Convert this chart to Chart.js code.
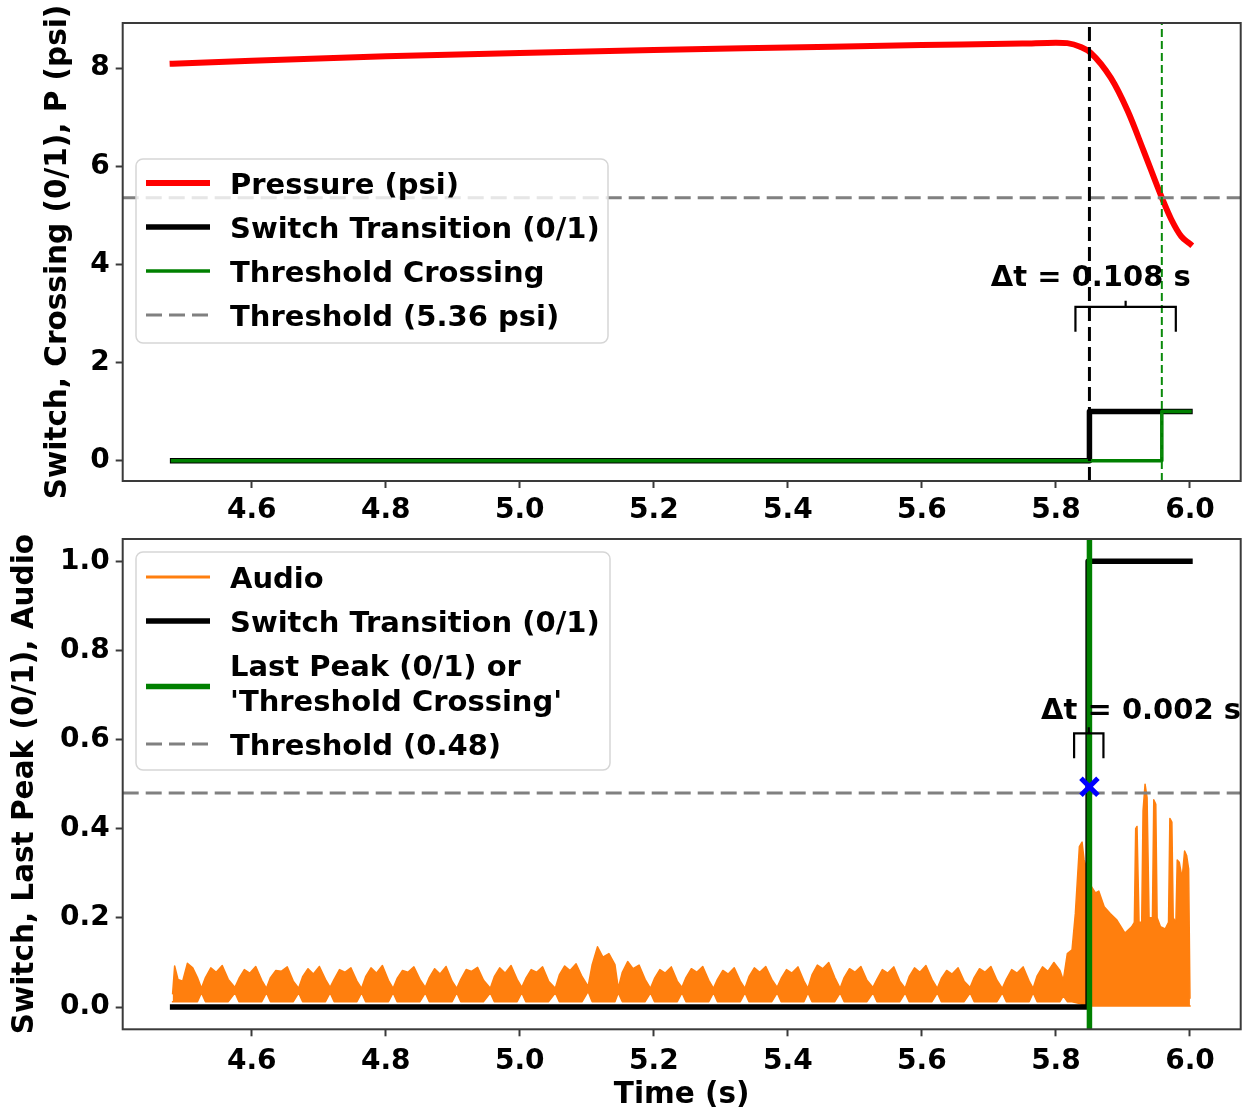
<!DOCTYPE html>
<html>
<head>
<meta charset="utf-8">
<script src="https://cdn.jsdelivr.net/npm/chart.js@4.4.1/dist/chart.umd.min.js"></script>
<style>
  html, body { margin: 0; padding: 0; background: #fff; }
  #wrap { position: relative; width: 1247px; height: 1112px; overflow: hidden; }
  canvas { position: absolute; left: 0; }
  #top { top: 0; }
  #bottom { top: 530px; }
</style>
</head>
<body>
<div id="wrap">
  <canvas id="top" width="1247" height="530"></canvas>
  <canvas id="bottom" width="1247" height="582"></canvas>
</div>
<script>
// shared time window (s)
const timeMin = 4.4075;
const timeMax = 6.0757;
const timeTicks = 0.2;

// top panel: pressure trace
const pressureT = [4.482, 4.6, 4.8, 5.0, 5.2, 5.4, 5.6, 5.75, 5.80, 5.817, 5.837, 5.852, 5.882, 5.907, 5.931, 5.958, 5.972, 5.987, 6.0];
const pressureP = [8.09, 8.15, 8.24, 8.31, 8.37, 8.42, 8.47, 8.50, 8.52, 8.51, 8.43, 8.31, 7.80, 7.13, 6.31, 5.36, 4.92, 4.57, 4.42];
const pressureThreshold = 5.36;

// top panel: switch and threshold crossing steps
const switchT = [4.482, 5.850, 5.850, 6.0];
const switchV = [0, 0, 1, 1];
const crossT = [4.482, 5.958, 5.958, 6.0];
const crossV = [0, 0, 1, 1];
const switchTime = 5.850;
const crossTime = 5.958;

// bottom panel: audio envelope (upper / lower edge of the signal band)
const audioT = [
  4.482, 4.485, 4.490, 4.497, 4.504, 4.512, 4.519,
  4.525, 4.531, 4.539, 4.547, 4.556, 4.565,
  4.575, 4.581, 4.589, 4.597, 4.606, 4.615,
  4.622, 4.628, 4.636, 4.644, 4.653, 4.662,
  4.670, 4.676, 4.684, 4.692, 4.701, 4.710,
  4.717, 4.723, 4.731, 4.739, 4.748, 4.757,
  4.764, 4.770, 4.778, 4.786, 4.795, 4.804,
  4.811, 4.817, 4.825, 4.833, 4.842, 4.851,
  4.859, 4.865, 4.873, 4.881, 4.890, 4.899,
  4.906, 4.912, 4.920, 4.928, 4.937, 4.946,
  4.956, 4.962, 4.970, 4.978, 4.987, 4.996,
  5.003, 5.009, 5.017, 5.025, 5.034, 5.043,
  5.053, 5.059, 5.067, 5.075, 5.084, 5.093,
  5.102, 5.108, 5.116, 5.124, 5.133, 5.142,
  5.147, 5.153, 5.161, 5.169, 5.178, 5.187,
  5.195, 5.201, 5.209, 5.217, 5.226, 5.235,
  5.242, 5.248, 5.256, 5.264, 5.273, 5.282,
  5.289, 5.295, 5.303, 5.311, 5.320, 5.329,
  5.336, 5.342, 5.350, 5.358, 5.367, 5.376,
  5.384, 5.390, 5.398, 5.406, 5.415, 5.424,
  5.430, 5.436, 5.444, 5.452, 5.461, 5.470,
  5.478, 5.484, 5.492, 5.500, 5.509, 5.518,
  5.527, 5.533, 5.541, 5.549, 5.558, 5.567,
  5.575, 5.581, 5.589, 5.597, 5.606, 5.615,
  5.623, 5.629, 5.637, 5.645, 5.654, 5.663,
  5.672, 5.678, 5.686, 5.694, 5.703, 5.712,
  5.720, 5.726, 5.734, 5.742, 5.751, 5.760,
  5.766, 5.772, 5.780, 5.788, 5.797, 5.806,
  5.811, 5.817, 5.824, 5.829, 5.835, 5.839, 5.842, 5.848, 5.853, 5.859,
  5.864, 5.872, 5.881, 5.891, 5.903, 5.913, 5.917, 5.919, 5.921, 5.924,
  5.928, 5.930, 5.933, 5.936, 5.939, 5.944, 5.946, 5.949, 5.951, 5.956,
  5.963, 5.968, 5.970, 5.973, 5.975, 5.979, 5.981, 5.984, 5.987, 5.989,
  5.992, 5.995, 5.998, 6.000
];
const audioHi = [
  .030, .092, .062, .058, .098, .088, .066,
  .042, .066, .088, .078, .093, .062,
  .044, .064, .084, .076, .091, .060,
  .042, .066, .082, .080, .090, .058,
  .042, .068, .086, .074, .091, .062,
  .044, .062, .084, .078, .088, .058,
  .042, .068, .088, .076, .093, .060,
  .042, .064, .082, .078, .090, .062,
  .044, .066, .086, .074, .091, .058,
  .042, .062, .084, .080, .089, .060,
  .042, .068, .088, .076, .093, .062,
  .044, .064, .084, .078, .090, .058,
  .042, .072, .092, .082, .097, .068,
  .046, .095, .135, .112, .120, .095,
  .042, .078, .102, .086, .094, .062,
  .042, .064, .084, .076, .090, .058,
  .044, .066, .086, .078, .091, .060,
  .042, .062, .082, .074, .088, .058,
  .042, .068, .088, .078, .091, .062,
  .044, .064, .084, .076, .090, .058,
  .042, .072, .094, .086, .100, .066,
  .042, .066, .086, .078, .091, .060,
  .044, .062, .084, .076, .090, .058,
  .042, .068, .088, .078, .093, .062,
  .042, .064, .082, .074, .088, .058,
  .044, .066, .086, .078, .091, .060,
  .042, .062, .084, .076, .090, .058,
  .042, .070, .090, .080, .100, .082,
  .060, .120, .128, .210, .360, .370, .330, .300, .270, .256,
  .260, .225, .210, .195, .166, .180, .190, .400, .405, .190,
  .190, .440, .500, .470, .200, .200, .465, .455, .200, .180,
  .175, .190, .423, .415, .200, .190, .330, .325, .300, .300,
  .350, .340, .310, .020
];
const audioLo = [
  .012, .012, .012, .012, .012, .012, .012,
  .032, .012, .012, .012, .012, .012,
  .032, .012, .012, .012, .012, .012,
  .032, .012, .012, .012, .012, .012,
  .032, .012, .012, .012, .012, .012,
  .032, .012, .012, .012, .012, .012,
  .032, .012, .012, .012, .012, .012,
  .032, .012, .012, .012, .012, .012,
  .032, .012, .012, .012, .012, .012,
  .032, .012, .012, .012, .012, .012,
  .032, .012, .012, .012, .012, .012,
  .032, .012, .012, .012, .012, .012,
  .032, .012, .012, .012, .012, .012,
  .035, .012, .012, .012, .012, .012,
  .032, .012, .012, .012, .012, .012,
  .032, .012, .012, .012, .012, .012,
  .032, .012, .012, .012, .012, .012,
  .032, .012, .012, .012, .012, .012,
  .032, .012, .012, .012, .012, .012,
  .032, .012, .012, .012, .012, .012,
  .032, .012, .012, .012, .012, .012,
  .032, .012, .012, .012, .012, .012,
  .032, .012, .012, .012, .012, .012,
  .032, .012, .012, .012, .012, .012,
  .032, .012, .012, .012, .012, .012,
  .032, .012, .012, .012, .012, .012,
  .032, .012, .012, .012, .012, .012,
  .032, .012, .012, .012, .012, .012,
  .025, .012, .012, .010, .008, .006, .004, .002, .002, .002,
  .002, .002, .002, .002, .002, .002, .002, .002, .002, .002,
  .002, .002, .002, .002, .002, .002, .002, .002, .002, .002,
  .002, .002, .002, .002, .002, .002, .002, .002, .002, .002,
  .002, .002, .002, .002
];
const audioThreshold = 0.48;

// bottom panel: switch step and last peak
const switch2T = [4.482, 5.848, 5.848, 6.0];
const switch2V = [0, 0, 1, 1];
const switch2Time = 5.848;
const lastPeakTime = 5.850;
const lastPeakValue = 0.494;

const topY = { min: -0.415, max: 8.92 };
const bottomY = { min: -0.05, max: 1.05 };

Chart.defaults.font.family = "'DejaVu Sans'";
Chart.defaults.color = '#000';

const pts = (t, v) => t.map((x, i) => ({ x, y: v[i] }));
const LEGEND_FONT = "bold 29px 'DejaVu Sans'";

// rounded legend box drawn from datasets carrying a legendRow
const boxLegend = {
  id: 'boxLegend',
  afterDraw(chart, args, o) {
    const ctx = chart.ctx;
    const items = chart.data.datasets
      .filter(d => d.legendRow !== undefined)
      .sort((a, b) => a.legendRow - b.legendRow);
    ctx.save();
    ctx.beginPath();
    ctx.roundRect(o.x, o.y, o.w, o.h, 7);
    ctx.fillStyle = 'rgba(255,255,255,0.8)';
    ctx.fill();
    ctx.lineWidth = 1.5;
    ctx.strokeStyle = '#d6d6d6';
    ctx.stroke();
    let y = o.y + o.first;
    items.forEach(d => {
      const lines = d.label.split('\n');
      const mid = y + (lines.length - 1) * o.lineGap / 2 + (lines.length > 1 ? 4 : 0);
      ctx.beginPath();
      ctx.setLineDash(d.borderDash || []);
      ctx.lineWidth = d.legendWidth || d.borderWidth;
      ctx.strokeStyle = d.borderColor;
      ctx.lineCap = 'butt';
      ctx.moveTo(o.x + 10, mid);
      ctx.lineTo(o.x + 74, mid);
      ctx.stroke();
      ctx.setLineDash([]);
      ctx.fillStyle = '#000';
      ctx.font = LEGEND_FONT;
      ctx.textBaseline = 'middle';
      ctx.textAlign = 'left';
      lines.forEach((l, i) => ctx.fillText(l, o.x + 94, y + 3 + i * o.lineGap));
      y += (lines.length - 1) * o.lineGap + o.rowGap;
    });
    ctx.restore();
  }
};

// Δt bracket between two event times plus its label
const deltaBracket = {
  id: 'deltaBracket',
  afterDatasetsDraw(chart, args, o) {
    const { ctx, scales: { x, y } } = chart;
    const x1 = x.getPixelForValue(o.t1);
    const x2 = x.getPixelForValue(o.t2);
    const yb = y.getPixelForValue(o.bracketY);
    const pad = 14, leg = 25;
    ctx.save();
    ctx.strokeStyle = '#000';
    ctx.lineWidth = 2.2;
    ctx.lineJoin = 'miter';
    ctx.beginPath();
    ctx.moveTo(x1 - pad, yb + leg);
    ctx.lineTo(x1 - pad, yb);
    ctx.lineTo(x2 + pad, yb);
    ctx.lineTo(x2 + pad, yb + leg);
    ctx.moveTo((x1 + x2) / 2, yb);
    ctx.lineTo((x1 + x2) / 2, yb - 6);
    ctx.stroke();
    ctx.fillStyle = '#000';
    ctx.font = "bold 29px 'DejaVu Sans'";
    ctx.textAlign = 'center';
    ctx.textBaseline = 'middle';
    const dt = (o.t2 - o.t1).toFixed(3);
    ctx.fillText('\u0394t = ' + dt + ' s', x.getPixelForValue(o.textT), y.getPixelForValue(o.textY));
    ctx.restore();
  }
};

// full box around the plot area
const frame = {
  id: 'frame',
  afterDraw(chart) {
    const { ctx, chartArea: a } = chart;
    ctx.save();
    ctx.strokeStyle = '#3a3a3a';
    ctx.lineWidth = 2;
    ctx.strokeRect(a.left, a.top, a.right - a.left, a.bottom - a.top);
    ctx.restore();
  }
};

// keep tick labels from pushing the plot area around
function noPad(s) {
  s.paddingTop = 0;
  s.paddingBottom = 0;
  s.paddingLeft = 0;
  s.paddingRight = 0;
}

function axisX(height, tickPad, title) {
  return {
    type: 'linear', min: timeMin, max: timeMax,
    afterFit: s => { s.height = height; noPad(s); },
    grid: { drawOnChartArea: false, drawTicks: true, tickLength: 7, tickWidth: 2, tickColor: '#3a3a3a' },
    border: { display: false },
    ticks: {
      stepSize: timeTicks, includeBounds: false, maxRotation: 0, autoSkip: false, padding: tickPad,
      font: { size: 28, weight: 'bold' }, color: '#000',
      callback: v => v.toFixed(1)
    },
    title: title ? { display: true, text: title, font: { size: 29.5, weight: 'bold', lineHeight: 1.1 }, color: '#000', padding: { top: 0, bottom: 0 } } : { display: false }
  };
}

function axisY(range, step, digits, title, titlePad) {
  return {
    type: 'linear', min: range.min, max: range.max,
    afterFit: s => { s.width = 122.7; noPad(s); },
    grid: { drawOnChartArea: false, drawTicks: true, tickLength: 7, tickWidth: 2, tickColor: '#3a3a3a' },
    border: { display: false },
    ticks: {
      stepSize: step, includeBounds: false, padding: 6,
      font: { size: 28, weight: 'bold' }, color: '#000',
      callback: v => v.toFixed(digits)
    },
    title: { display: true, text: title, font: { size: 29.5, weight: 'bold', lineHeight: 1.2 }, color: '#000', padding: { top: titlePad, bottom: 0 } }
  };
}

const common = {
  responsive: false,
  animation: false,
  devicePixelRatio: 1,
  events: [],
  elements: { point: { radius: 0 }, line: { tension: 0, borderJoinStyle: 'round', borderCapStyle: 'square' } },
  plugins: { legend: { display: false }, tooltip: { enabled: false } }
};

// pressure / switch / crossing panel
new Chart(document.getElementById('top'), {
  type: 'line',
  data: {
    datasets: [
      { data: pts([crossTime, crossTime], [topY.min, topY.max]), borderColor: '#0a8a0a', borderWidth: 2, borderDash: [8, 4], borderCapStyle: 'butt' },
      { data: pts([switchTime, switchTime], [topY.min, topY.max]), borderColor: '#000', borderWidth: 3, borderDash: [14, 6], borderCapStyle: 'butt' },
      { label: 'Threshold (' + pressureThreshold + ' psi)', legendRow: 3, data: pts([timeMin, timeMax], [pressureThreshold, pressureThreshold]),
        borderColor: '#808080', borderWidth: 3, borderDash: [16, 7], borderCapStyle: 'butt' },
      { label: 'Threshold Crossing', legendRow: 2, data: pts(crossT, crossV), borderColor: '#008000', borderWidth: 3.5 },
      { label: 'Switch Transition (0/1)', legendRow: 1, data: pts(switchT, switchV), borderColor: '#000', borderWidth: 5.5 },
      { label: 'Pressure (psi)', legendRow: 0, data: pts(pressureT, pressureP), borderColor: '#ff0000', borderWidth: 6, cubicInterpolationMode: 'monotone' }
    ]
  },
  options: {
    ...common,
    layout: { autoPadding: false, padding: { left: 0, top: 23, right: 6.3, bottom: 0 } },
    scales: {
      x: axisX(49, 6, null),
      y: axisY(topY, 2, 0, 'Switch, Crossing (0/1), P (psi)', 41)
    },
    plugins: {
      ...common.plugins,
      boxLegend: { x: 136, y: 159, w: 472, h: 184, first: 24, rowGap: 44, lineGap: 35 },
      deltaBracket: { t1: switchTime, t2: crossTime, bracketY: 3.135, textT: 5.852, textY: 3.71 }
    }
  },
  plugins: [boxLegend, deltaBracket, frame]
});

// audio / switch / last peak panel
new Chart(document.getElementById('bottom'), {
  type: 'line',
  data: {
    datasets: [
      { data: [{ x: lastPeakTime, y: lastPeakValue }], showLine: false, pointStyle: 'crossRot', pointRadius: 12,
        pointBorderWidth: 5, pointBorderColor: '#0000ff', pointBackgroundColor: '#0000ff' },
      { label: "Last Peak (0/1) or\n'Threshold Crossing'", legendRow: 2, data: pts([lastPeakTime, lastPeakTime], [bottomY.min, bottomY.max]),
        borderColor: '#008000', borderWidth: 5.5, borderCapStyle: 'butt' },
      { label: 'Threshold (' + audioThreshold + ')', legendRow: 3, data: pts([timeMin, timeMax], [audioThreshold, audioThreshold]),
        borderColor: '#808080', borderWidth: 3, borderDash: [16, 7], borderCapStyle: 'butt' },
      { label: 'Switch Transition (0/1)', legendRow: 1, data: pts(switch2T, switch2V), borderColor: '#000', borderWidth: 5.5 },
      { label: 'Audio', legendRow: 0, legendWidth: 3, data: pts(audioT, audioHi), borderColor: '#ff7f0e', borderWidth: 1.5,
        fill: '+1', backgroundColor: '#ff7f0e' },
      { data: pts(audioT, audioLo), borderColor: '#ff7f0e', borderWidth: 1.5 }
    ]
  },
  options: {
    ...common,
    layout: { autoPadding: false, padding: { left: 0, top: 9, right: 6.3, bottom: 0 } },
    scales: {
      x: axisX(82.7, 9, 'Time (s)'),
      y: axisY(bottomY, 0.2, 1, 'Switch, Last Peak (0/1), Audio', 8)
    },
    plugins: {
      ...common.plugins,
      boxLegend: { x: 136, y: 22, w: 474, h: 218, first: 25, rowGap: 44, lineGap: 35 },
      deltaBracket: { t1: switch2Time, t2: lastPeakTime, bracketY: 0.614, textT: 5.927, textY: 0.663 }
    }
  },
  plugins: [boxLegend, deltaBracket, frame]
});
</script>
</body>
</html>
